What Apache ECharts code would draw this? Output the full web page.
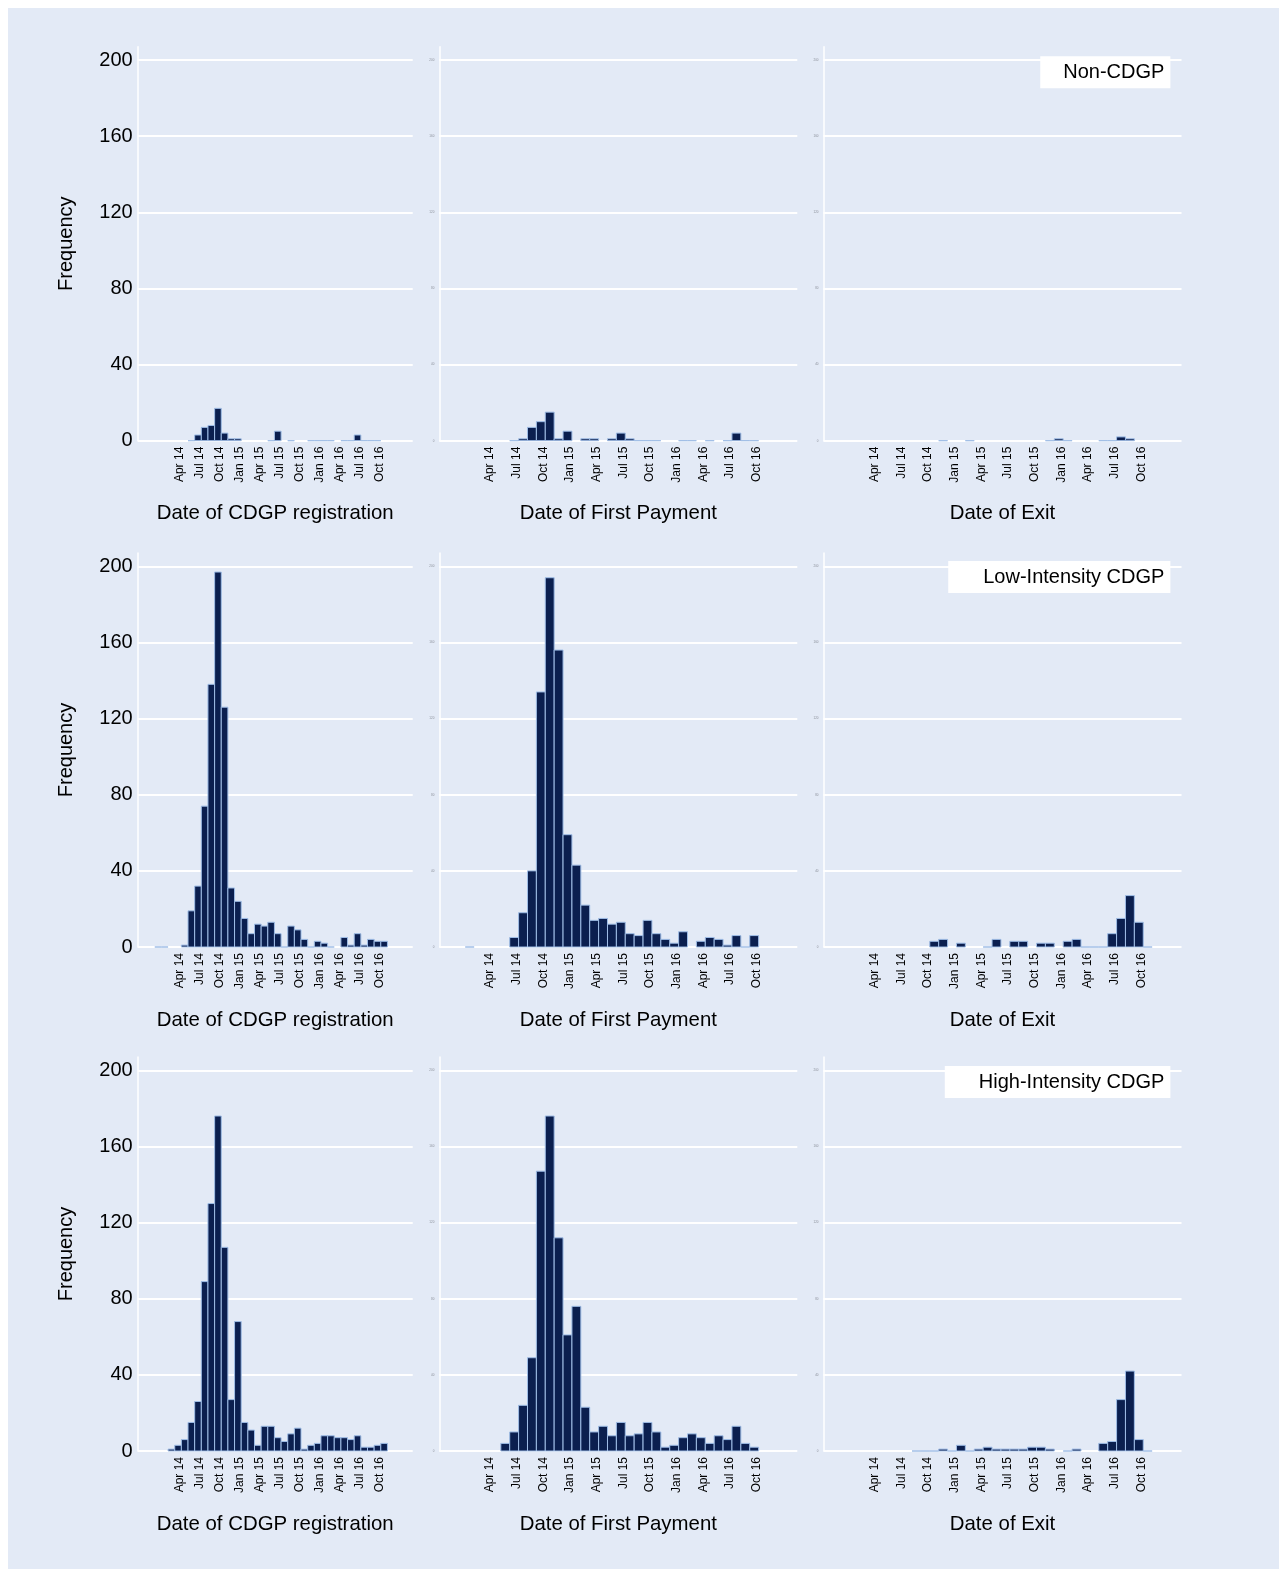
<!DOCTYPE html>
<html><head><meta charset="utf-8">
<script src="https://cdn.jsdelivr.net/npm/echarts@6/dist/echarts.min.js"></script>
<style>html,body{margin:0;padding:0;background:#fff;}#c{position:absolute;left:8px;top:8px;width:1271px;height:1561px;}</style>
</head><body><div id="c"></div>
<script>
// Monthly bins, Dec 13 .. Oct 16
const binMonths = ['Dec 13','Jan 14','Feb 14','Mar 14','Apr 14','May 14','Jun 14','Jul 14','Aug 14','Sep 14','Oct 14','Nov 14','Dec 14',
  'Jan 15','Feb 15','Mar 15','Apr 15','May 15','Jun 15','Jul 15','Aug 15','Sep 15','Oct 15','Nov 15','Dec 15',
  'Jan 16','Feb 16','Mar 16','Apr 16','May 16','Jun 16','Jul 16','Aug 16','Sep 16','Oct 16'];
const tickLabels = ['Apr 14','Jul 14','Oct 14','Jan 15','Apr 15','Jul 15','Oct 15','Jan 16','Apr 16','Jul 16','Oct 16'];
const yTicks = [0,40,80,120,160,200];
const rowLabels = ['Non-CDGP','Low-Intensity CDGP','High-Intensity CDGP'];
const colTitles = ['Date of CDGP registration','Date of First Payment','Date of Exit'];
const _ = null;
// Frequencies per month bin (aligned with binMonths); null = no bar
const nonReg  = [_,_,_,_,_,0,3,7,8,17,4,1,1,_,_,_,_,0,5,_,0,_,_,0,0,0,0,_,0,0,3,0,0,0,_];
const nonPay  = [_,_,_,_,_,_,0,1,7,10,15,1,5,_,1,1,_,1,4,1,0,0,0,_,_,0,0,_,0,_,0,4,0,0,_];
const nonExit = [_,_,_,_,_,_,_,_,_,_,_,0,_,_,0,_,_,_,_,_,_,_,_,0,1,0,_,_,_,0,0,2,1,_,_];
const lowReg  = [0,0,_,_,1,19,32,74,138,197,126,31,24,15,7,12,11,13,7,0,11,9,4,0,3,2,0,_,5,1,7,1,4,3,3];
const lowPay  = [_,0,_,_,_,_,5,18,40,134,194,156,59,43,22,14,15,12,13,7,6,14,7,4,2,8,_,3,5,4,1,6,0,6,_];
const lowExit = [_,_,_,_,_,_,_,_,_,_,3,4,_,2,_,_,0,4,_,3,3,_,2,2,_,3,4,0,0,0,7,15,27,13,0];
const highReg = [_,_,1,3,6,15,26,89,130,176,107,27,68,15,11,3,13,13,7,5,9,12,1,3,4,8,8,7,7,6,8,2,2,3,4];
const highPay = [_,_,_,_,_,4,10,24,49,147,176,112,61,76,23,10,13,8,15,8,9,15,10,2,3,7,9,7,4,8,6,13,4,2,_];
const highExit= [_,_,_,_,_,_,_,_,0,0,0,1,0,3,0,1,2,1,1,1,1,2,2,1,_,0,1,_,_,4,5,27,42,6,0];

const panels = [[nonReg,nonPay,nonExit],[lowReg,lowPay,lowExit],[highReg,highPay,highExit]];

// styling / layout
const BG = '#e3eaf6', BAR = '#0b1f4f', EDGE = '#9fbde6';
const FONT = '"Liberation Sans", Arial, Helvetica, sans-serif';
const colLeft = [129.7, 431.3, 815.5], colWidth = [275, 358, 358];
const rowTop = [38.7, 545, 1049], rowHeight = 394;
const xRange = [[-3.37, 38.0], [-2.72, 37.55], [-2.75, 37.5]];
const binOffset = 0.2;
const labelBox = [
  {right:108.6, top:48.3, pad:[6,6,6,23]},
  {right:108.6, top:553, pad:[6,6,6,35]},
  {right:108.6, top:1058, pad:[6,6,6,34]}
];

const base = binMonths.indexOf('Jan 14');
const tickVals = tickLabels.map(l => binMonths.indexOf(l) - base);
const labelMap = {}; tickLabels.forEach((l,i)=>labelMap[tickVals[i]] = l);

function renderItem(params, api) {
  const x0 = api.value(0), x1 = api.value(1), y = api.value(2);
  const p0 = api.coord([x0, y]);
  const p1 = api.coord([x1, 0]);
  return {
    type: 'rect',
    shape: {x: p0[0], y: p0[1], width: p1[0]-p0[0], height: p1[1]-p0[1]},
    style: {fill: BAR, stroke: EDGE, lineWidth: 1}
  };
}

const grid = [], xAxis = [], yAxis = [], series = [], title = [];
for (let r = 0; r < 3; r++) {
  for (let c = 0; c < 3; c++) {
    const gi = grid.length;
    grid.push({left: colLeft[c], top: rowTop[r], width: colWidth[c], height: rowHeight});
    xAxis.push({
      type: 'value', gridIndex: gi, min: xRange[c][0], max: xRange[c][1],
      axisLine: {show: false, onZero: false}, axisTick: {show: false}, splitLine: {show: false},
      axisLabel: {rotate: 90, fontSize: 12, color: '#000', margin: 6, fontFamily: FONT,
        customValues: tickVals, formatter: v => labelMap[Math.round(v)] || ''},
      name: colTitles[c], nameLocation: 'middle', nameGap: 63,
      nameTextStyle: {fontSize: 20.4, color: '#000', fontFamily: FONT}
    });
    yAxis.push({
      type: 'value', gridIndex: gi, min: 0, max: 207, interval: 40,
      axisLine: {show: true, onZero: false, lineStyle: {color: '#fff', width: 1.5}},
      axisTick: {show: false},
      splitLine: {show: true, showMaxLine: false, lineStyle: {color: '#fff', width: 2}},
      axisLabel: c === 0
        ? {fontSize: 20, color: '#000', margin: 5, showMaxLabel: false, fontFamily: FONT}
        : {fontSize: 3, color: '#8a8f99', margin: 5, showMaxLabel: false, fontFamily: FONT},
      name: c === 0 ? 'Frequency' : '', nameLocation: 'middle', nameGap: 61,
      nameTextStyle: {fontSize: 20, color: '#000', fontFamily: FONT}
    });
    const vals = panels[r][c];
    const data = [];
    vals.forEach((v, i) => {
      if (v === null) return;
      const k = i - base;
      data.push([k + binOffset, k + 1 + binOffset, v]);
    });
    series.push({
      type: 'custom', xAxisIndex: gi, yAxisIndex: gi, renderItem: renderItem,
      encode: {x: [0, 1], y: 2}, data: data, silent: true, animation: false
    });
  }
  title.push({
    text: rowLabels[r], right: labelBox[r].right, top: labelBox[r].top,
    backgroundColor: '#fff', padding: labelBox[r].pad,
    textStyle: {fontSize: 20, fontWeight: 'normal', color: '#000', fontFamily: FONT, lineHeight: 20}
  });
}

const chart = echarts.init(document.getElementById('c'), null, {renderer: 'canvas'});
chart.setOption({
  backgroundColor: BG, animation: false,
  textStyle: {fontFamily: FONT},
  title, grid, xAxis, yAxis, series
});
</script>
</body></html>
